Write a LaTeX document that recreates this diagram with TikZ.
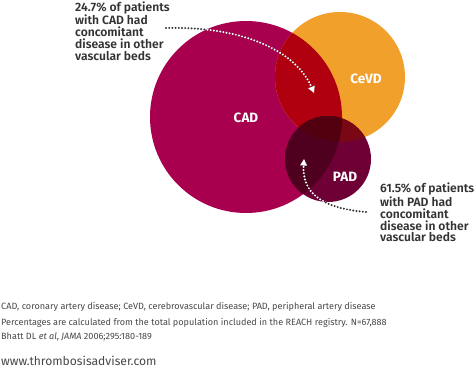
\documentclass[tikz,border=0pt]{standalone}
\usepackage{fontspec}
\setmainfont{Fira Sans}
\newfontfamily\semib{Fira Sans SemiBold}
\usetikzlibrary{arrows.meta}
\definecolor{cadcol}{HTML}{A8004E}
\definecolor{cevdcol}{HTML}{F1A02C}
\definecolor{padcol}{HTML}{6E0036}
\definecolor{cadcevd}{HTML}{B0000F}
\definecolor{cadpad}{HTML}{4E001E}
\definecolor{cevdpad}{HTML}{7A0814}
\definecolor{allthree}{HTML}{52000F}
\definecolor{txtcol}{HTML}{333333}
\tikzset{
  venn/.style={circle, inner sep=0pt, outer sep=0pt},
  vennlabel/.style={text=white, font=\bfseries\fontsize{13.5}{15}\selectfont},
  callout/.style={text=txtcol, align=left, anchor=north west, inner sep=0pt,
    font=\semib\fontsize{12.1}{11.9}\selectfont},
  foot/.style={text=txtcol!90, anchor=west, inner sep=0pt, font=\fontsize{9.1}{10}\selectfont},
  dots/.style={line width=2.2pt, line cap=round, dash pattern=on 0pt off 3.2pt,
    -{Triangle[width=6.5pt,length=6.5pt]}},
}
\begin{document}
\begin{tikzpicture}[x=1pt,y=-1pt]
\useasboundingbox (0,0) rectangle (474,370);
% circles
\node[venn, minimum size=192pt, fill=cadcol] (cad) at (246,117) {};
\node[venn, minimum size=130pt, fill=cevdcol] (cevd) at (340,77) {};
\begin{scope}
  \clip (cad.center) circle (96);
  \fill[cadcevd] (cevd.center) circle (65);
\end{scope}
\node[venn, minimum size=86pt, fill=padcol] (pad) at (328,159) {};
\begin{scope}
  \clip (pad.center) circle (43);
  \fill[cevdpad] (cevd.center) circle (65);
  \fill[cadpad] (cad.center) circle (96);
  \clip (cad.center) circle (96);
  \fill[allthree] (cevd.center) circle (65);
\end{scope}
% labels
\node[vennlabel] (cadlbl) at (246,118) {CAD};
\node[vennlabel] (cevdlbl) at (366,79) {CeVD};
\node[vennlabel] (padlbl) at (345,177) {PAD};
% callouts
\node[callout] (topnote) at (75,1.5) {24.7\% of patients\\with CAD had\\concomitant\\disease in other\\vascular beds};
\node[callout] (rightnote) at (380,183) {61.5\% of patients\\with PAD had\\concomitant\\disease in other\\vascular beds};
\coordinate (s1) at (166,28);
\coordinate (e1) at (314,93);
\coordinate (s2) at (366,212);
\coordinate (e2) at (304,159);
\draw[dots, txtcol] (s1) .. controls (250,26) and (298,55) .. (e1);
\draw[dots, txtcol] (s2) .. controls (320,208) and (302,192) .. (e2);
\begin{scope}
  \clip (cad.center) circle (96) (cevd.center) circle (65) (pad.center) circle (43);
  \draw[dots, white] (s1) .. controls (250,26) and (298,55) .. (e1);
  \draw[dots, white] (s2) .. controls (320,208) and (302,192) .. (e2);
\end{scope}
% footnotes
\node[foot] (fn1) at (1,307) {CAD, coronary artery disease; CeVD, cerebrovascular disease; PAD, peripheral artery disease};
\node[foot] (fn2) at (1,323) {Percentages are calculated from the total population included in the REACH registry. N=67,888};
\node[foot] (fn3) at (1,337) {Bhatt DL \textit{et al}, \textit{JAMA} 2006;295:180-189};
\node[foot, font=\fontsize{12.1}{14}\selectfont] (url) at (1,361) {www.thrombosisadviser.com};
\end{tikzpicture}
\end{document}
